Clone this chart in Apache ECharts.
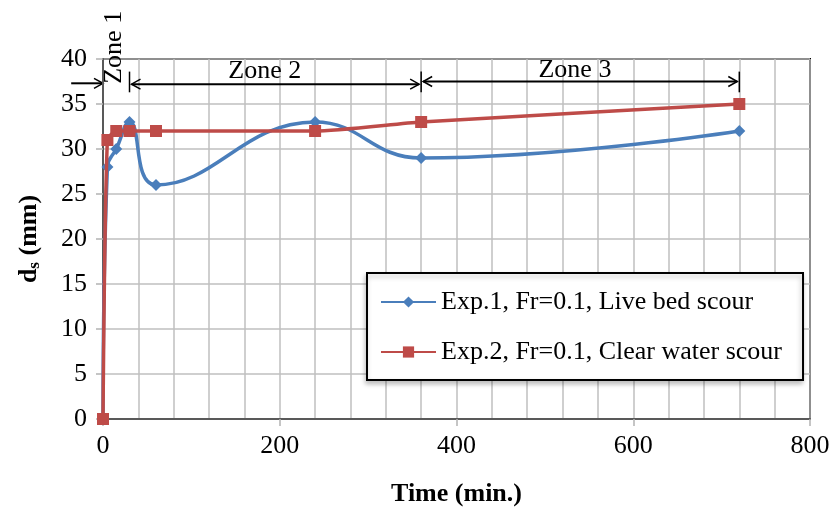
<!DOCTYPE html>
<html>
<head>
<meta charset="utf-8">
<script src="https://cdn.jsdelivr.net/npm/echarts@6/dist/echarts.min.js"></script>
<style>
  html, body { margin: 0; padding: 0; background: #fff; }
  #chart { width: 835px; height: 508px; }
</style>
</head>
<body>
<div id="chart"></div>
<script>
// data
var timeExp1 = [0, 5, 15, 30, 60, 240, 360, 720];
var dsExp1 = [0, 28, 30, 33, 26, 33, 29, 32];
var timeExp2 = [0, 5, 15, 30, 60, 240, 360, 720];
var dsExp2 = [0, 31, 32, 32, 32, 32, 33, 35];
var seriesNames = ['Exp.1, Fr=0.1, Live bed scour', 'Exp.2, Fr=0.1, Clear water scour'];

// zone annotations (data units)
var zoneBounds = [0, 30, 360, 720];
var zoneLineY = [37.3, 37.2, 37.5];
var zoneTickY = [36.3, 38.6];
var zoneStartX = -36;
var zoneNames = ['Zone 1', 'Zone 2', 'Zone 3'];
var zoneLabelX = [13, 183, 534];
var zoneLabelY = [41.3, 38.6, 38.8];

var font = 'Liberation Serif, Times New Roman, serif';
var gridColor = '#bfbfbf';

var chart = echarts.init(document.getElementById('chart'));

var option = {
    animation: false,
    grid: {
        left: 103, right: 25, top: 59, bottom: 89,
        outerBoundsMode: 'none',
        show: true, borderColor: '#000', borderWidth: 2
    },
    legend: {
        orient: 'vertical',
        left: 367, top: 273,
        padding: [14, 21, 13, 13],
        itemGap: 20,
        itemWidth: 55, itemHeight: 14,
        backgroundColor: '#fff',
        borderColor: '#000', borderWidth: 2,
        shadowColor: 'rgba(0,0,0,0.25)', shadowBlur: 5, shadowOffsetX: -1, shadowOffsetY: 3,
        textStyle: { fontFamily: font, fontSize: 26, color: '#000', lineHeight: 30 },
        data: seriesNames
    },
    xAxis: [
        {
            // minor grid every 40 min
            type: 'value', min: 0, max: 800, interval: 40,
            axisLine: { onZero: false, lineStyle: { color: '#595959', width: 2 } },
            axisTick: { show: false },
            axisLabel: { show: false },
            splitLine: { show: true, lineStyle: { color: gridColor, width: 1.5 } }
        },
        {
            // labels every 200 min
            type: 'value', min: 0, max: 800, interval: 200, position: 'bottom',
            name: 'Time (min.)', nameLocation: 'middle', nameGap: 62,
            nameTextStyle: { fontFamily: font, fontSize: 26, fontWeight: 'bold', color: '#000' },
            axisLine: { show: false, onZero: false },
            axisTick: { show: true, length: 7, lineStyle: { color: '#b3b3b3', width: 1.5 } },
            axisLabel: { margin: 14, fontFamily: font, fontSize: 26, color: '#000' },
            splitLine: { show: false }
        }
    ],
    yAxis: {
        type: 'value', min: 0, max: 40, interval: 5,
        name: '{b|d}{s|s}{b| (mm)}', nameLocation: 'middle', nameGap: 60, nameRotate: 90,
        nameTextStyle: {
            rich: {
                b: { fontFamily: font, fontSize: 26, fontWeight: 'bold', color: '#000' },
                s: { fontFamily: font, fontSize: 17, fontWeight: 'bold', color: '#000', verticalAlign: 'bottom', padding: [10, 0, 0, 0] }
            }
        },
        axisLine: { show: true, lineStyle: { color: '#595959', width: 2 } },
        axisTick: { show: true, length: 7, lineStyle: { color: '#b3b3b3', width: 1.5 } },
        axisLabel: { margin: 16, fontFamily: font, fontSize: 26, color: '#000' },
        splitLine: { show: true, lineStyle: { color: gridColor, width: 1.5 } }
    },
    series: [
        {
            name: seriesNames[0],
            type: 'line',
            data: timeExp1.map(function (t, i) { return [t, dsExp1[i]]; }),
            smooth: 0.45,
            symbol: 'diamond', symbolSize: 12,
            lineStyle: { color: '#4a7ebb', width: 3.5 },
            itemStyle: { color: '#4a7ebb' },
            z: 2
        },
        {
            name: seriesNames[1],
            type: 'line',
            data: timeExp2.map(function (t, i) { return [t, dsExp2[i]]; }),
            smooth: 0.2,
            symbol: 'rect', symbolSize: 12,
            lineStyle: { color: '#be4b48', width: 3.5 },
            itemStyle: { color: '#be4b48' },
            z: 3
        }
    ]
};

chart.setOption(option);

// zone arrows and labels, placed through the chart's own scales
function px(x, y) { return chart.convertToPixel({ xAxisIndex: 0, yAxisIndex: 0 }, [x, y]); }
function head(p, dir) {
    // open chevron arrowhead pointing in dir (+1 right, -1 left)
    return {
        type: 'polyline',
        shape: { points: [[p[0] - dir * 9, p[1] - 5], [p[0], p[1]], [p[0] - dir * 9, p[1] + 5]] },
        style: { stroke: '#000', lineWidth: 1.5, fill: null }
    };
}
function hline(a, b) {
    return { type: 'line', shape: { x1: a[0], y1: a[1], x2: b[0], y2: b[1] }, style: { stroke: '#000', lineWidth: 2 } };
}

var g = [];
zoneBounds.forEach(function (x) {
    var a = px(x, zoneTickY[0]), b = px(x, zoneTickY[1]);
    g.push({ type: 'line', shape: { x1: a[0], y1: a[1], x2: b[0], y2: b[1] }, style: { stroke: '#000', lineWidth: 1.5 } });
});
// zone 1: arrow from the left to the first bound
var s1 = px(zoneStartX, zoneLineY[0]), e1 = px(zoneBounds[0], zoneLineY[0]);
g.push(hline(s1, e1), head(e1, 1));
// zone 2 and zone 3: double headed
for (var i = 1; i < 3; i++) {
    var a = px(zoneBounds[i], zoneLineY[i]), b = px(zoneBounds[i + 1], zoneLineY[i]);
    a[0] += 2; b[0] -= 2;
    g.push(hline(a, b), head(a, -1), head(b, 1));
}
zoneNames.forEach(function (name, i) {
    var p = px(zoneLabelX[i], zoneLabelY[i]);
    g.push({
        type: 'text', x: p[0], y: p[1], rotation: i === 0 ? Math.PI / 2 : 0,
        style: { text: name, fontFamily: font, fontSize: 26, fill: '#000', align: 'center', verticalAlign: 'middle' },
        z: 10
    });
});

chart.setOption({ graphic: g });
</script>
</body>
</html>
